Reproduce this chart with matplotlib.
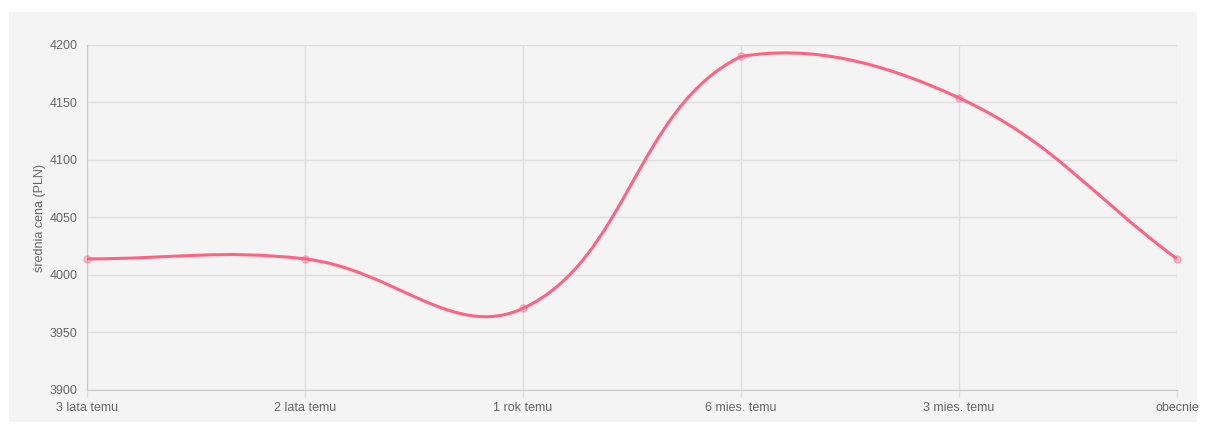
import numpy as np
import matplotlib
matplotlib.use('Agg')
import matplotlib.pyplot as plt
from matplotlib.path import Path
from matplotlib.patches import PathPatch, Rectangle

labels = ['3 lata temu', '2 lata temu', '1 rok temu', '6 mies. temu', '3 mies. temu', 'obecnie']
prices = [4014, 4014, 3971, 4190, 4154, 4014]

line_color = '#ff6384'
text_color = '#666666'
grid_color = '#dedede'
tension = 0.4

plt.rcParams['font.family'] = ['Liberation Sans', 'DejaVu Sans']

fig = plt.figure(figsize=(12.06, 4.25), dpi=100)
fig.patch.set_facecolor('white')
bg = Rectangle((9 / 1206, 3 / 425), 1188 / 1206, 410 / 425,
               transform=fig.transFigure, facecolor='#f4f4f4',
               edgecolor='none', zorder=-10)
fig.add_artist(bg)

ax = fig.add_axes([87 / 1206, 35 / 425, 1090 / 1206, 345 / 425])
ax.set_zorder(5)
ax.set_facecolor('none')
x = np.arange(len(prices))
ax.set_xlim(0, len(prices) - 1)
ax.set_ylim(3900, 4200)
ax.set_yticks(np.arange(3900, 4201, 50))
ax.set_xticks(x)
ax.set_xticklabels(labels)
ax.grid(True, color=grid_color, linewidth=1)
for s in ['top', 'right']:
    ax.spines[s].set_visible(False)
for s in ['left', 'bottom']:
    ax.spines[s].set_color('#c8c8c8')
ax.tick_params(axis='both', colors=grid_color, labelcolor=text_color, labelsize=9,
               length=5, width=1)
ax.tick_params(axis='y', length=0, pad=7)
ax.set_ylabel('średnia cena (PLN)', color=text_color, fontsize=9, labelpad=2)

# Chart.js style spline (tension 0.4), control points computed in pixel space
pts = ax.transData.transform(np.column_stack([x, prices]))
n = len(pts)
cp_prev = pts.copy()
cp_next = pts.copy()
for i in range(n):
    p0 = pts[i - 1] if i > 0 else pts[i]
    p1 = pts[i]
    p2 = pts[i + 1] if i < n - 1 else pts[i]
    d01 = np.hypot(*(p1 - p0))
    d12 = np.hypot(*(p2 - p1))
    tot = d01 + d12
    s01 = d01 / tot if tot else 0
    s12 = d12 / tot if tot else 0
    cp_prev[i] = p1 - tension * s01 * (p2 - p0)
    cp_next[i] = p1 + tension * s12 * (p2 - p0)

bb = ax.get_window_extent()
cp_prev[:, 1] = np.clip(cp_prev[:, 1], bb.y0, bb.y1)
cp_next[:, 1] = np.clip(cp_next[:, 1], bb.y0, bb.y1)

# back to data coordinates so the curve follows the axes transform
inv = ax.transData.inverted()
verts = [inv.transform(pts[0])]
codes = [Path.MOVETO]
for i in range(n - 1):
    verts += [inv.transform(cp_next[i]), inv.transform(cp_prev[i + 1]),
              inv.transform(pts[i + 1])]
    codes += [Path.CURVE4] * 3
path = Path(verts, codes)
patch = PathPatch(path, facecolor='none', edgecolor=line_color,
                  linewidth=2.2, zorder=3, clip_on=False)
ax.add_patch(patch)

ax.plot(x, prices, linestyle='none', marker='o', markersize=5,
        markerfacecolor=(1, 0.39, 0.52, 0.3), markeredgecolor=(1, 0.39, 0.52, 0.5),
        markeredgewidth=1, zorder=4, clip_on=False)

fig.savefig('out.png', dpi=100)
